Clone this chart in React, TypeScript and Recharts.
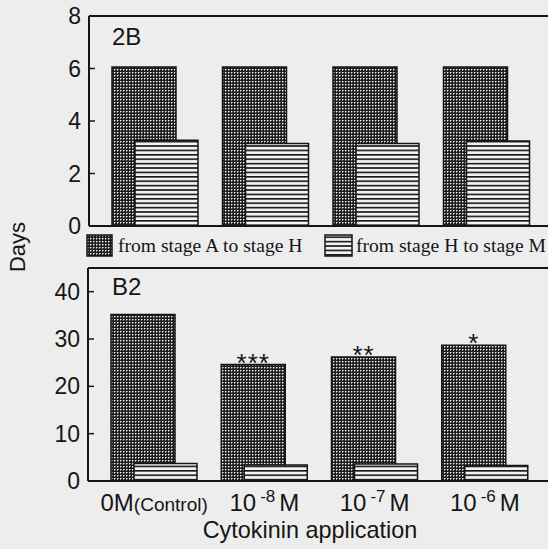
import { BarChart, Bar, XAxis, YAxis, ReferenceLine, LabelList, Legend } from "recharts";

const CATEGORIES = ["0M(Control)", "10-8 M", "10-7 M", "10-6 M"];
const TICK_BASE = ["0M", "10", "10", "10"];
const TICK_EXP = ["", "-8", "-7", "-6"];
const TICK_TAIL = ["(Control)", "M", "M", "M"];

// panel 2B
const AH_2B = [6.06, 6.06, 6.06, 6.06];
const HM_2B = [3.27, 3.14, 3.14, 3.24];
const TICKS_2B = [0, 2, 4, 6, 8];

// panel B2
const AH_B2 = [35.2, 24.6, 26.2, 28.7];
const HM_B2 = [3.7, 3.4, 3.6, 3.3];
const SIG_B2 = ["", "***", "**", "*"];
const TICKS_B2 = [0, 10, 20, 30, 40];

const LEGEND_NAMES = ["from stage A to stage H", "from stage H to stage M"];

const INK = "#151515";
const PAPER = "#ededed";
const SANS = "'Liberation Sans', Arial, sans-serif";
const SERIF = "'Liberation Serif', 'Times New Roman', serif";

const data2B = CATEGORIES.map((name, i) => ({ name, ah: AH_2B[i], hm: HM_2B[i] }));
const dataB2 = CATEGORIES.map((name, i) => ({ name, ah: AH_B2[i], hm: HM_B2[i], sig: SIG_B2[i] }));

function Patterns({ id }: { id: string }) {
  return (
    <defs>
      <pattern id={`dots-${id}`} width="3" height="3" patternUnits="userSpaceOnUse">
        <rect width="3" height="3" fill="#1e1e1e" />
        <rect x="0" y="0" width="1" height="1" fill="#eeeeee" />
        <rect x="1" y="0" width="1" height="1" fill="#8a8a8a" />
        <rect x="0" y="1" width="1" height="1" fill="#8a8a8a" />
      </pattern>
      <pattern id={`stripes-${id}`} width="6" height="4.4" patternUnits="userSpaceOnUse">
        <rect width="6" height="4.4" fill="#f3f3f3" />
        <rect y="0" width="6" height="1.6" fill={INK} />
      </pattern>
    </defs>
  );
}

// ticks point inward in the original
function YTick({ x, y, payload }: any) {
  return (
    <g>
      <line x1={x + 8} x2={x + 14} y1={y} y2={y} stroke={INK} strokeWidth={1.5} />
      <text x={x} y={y} dy={8} textAnchor="end" fontFamily={SANS} fontSize={23} fill={INK}>
        {payload.value}
      </text>
    </g>
  );
}

function XTick({ x, y, payload }: any) {
  const i = CATEGORIES.indexOf(payload.value);
  if (!TICK_EXP[i]) {
    return (
      <text x={x} y={y + 30} textAnchor="middle" fontFamily={SANS} fill={INK}>
        <tspan fontSize={24}>{TICK_BASE[i]}</tspan>
        <tspan fontSize={19}>{TICK_TAIL[i]}</tspan>
      </text>
    );
  }
  return (
    <text x={x} y={y + 30} textAnchor="middle" fontFamily={SANS} fill={INK}>
      <tspan fontSize={24}>{TICK_BASE[i]}</tspan>
      <tspan fontSize={17} dx={4} dy={-9}>{TICK_EXP[i]}</tspan>
      <tspan fontSize={24} dx={4} dy={9}>{TICK_TAIL[i]}</tspan>
    </text>
  );
}

function Sig(props: any) {
  const { x, y, width, value } = props;
  if (!value) return null;
  return (
    <text x={x + width / 2} y={y + 7} textAnchor="middle" fontFamily={SANS} fontSize={26} letterSpacing={1} fill={INK}>
      {value}
    </text>
  );
}

function LegendBox() {
  return (
    <svg width={548} height={28}>
      <rect x={87} y={3} width={25} height={21} fill="url(#dots-2B)" stroke={INK} strokeWidth={1.5} />
      <text x={118} y={20} fontFamily={SERIF} fontSize={19.6} fill={INK}>{LEGEND_NAMES[0]}</text>
      <rect x={325} y={3} width={27} height={21} fill="url(#stripes-2B)" stroke={INK} strokeWidth={1.5} />
      <text x={356} y={20} fontFamily={SERIF} fontSize={19.6} fill={INK}>{LEGEND_NAMES[1]}</text>
    </svg>
  );
}

export default function App() {
  return (
    <div style={{ position: "absolute", left: 0, top: 0, width: 548, height: 549, background: PAPER, overflow: "hidden" }}>
      <div style={{ position: "absolute", left: 0, top: 0 }}>
        <BarChart width={548} height={262} data={data2B} margin={{ top: 16, right: 0, left: 29, bottom: 35 }} barGap={-41}>
          <Patterns id="2B" />
          <XAxis dataKey="name" height={1} tick={false} tickLine={false} axisLine={{ stroke: INK, strokeWidth: 2 }} padding={{ left: 11, right: 6 }} />
          <YAxis width={60} domain={[0, 8]} ticks={TICKS_2B} interval={0} tickSize={0} tickMargin={8} tickLine={false} axisLine={{ stroke: INK, strokeWidth: 2 }} tick={<YTick />} />
          <ReferenceLine y={8} stroke={INK} strokeWidth={2} />
          <Bar dataKey="ah" name={LEGEND_NAMES[0]} barSize={64} fill="url(#dots-2B)" stroke={INK} strokeWidth={1.5} isAnimationActive={false} />
          <Bar dataKey="hm" name={LEGEND_NAMES[1]} barSize={63} fill="url(#stripes-2B)" stroke={INK} strokeWidth={1.5} isAnimationActive={false} />
          <Legend layout="horizontal" verticalAlign="middle" align="center" content={<LegendBox />} wrapperStyle={{ top: 232, left: 0, width: 548, height: 28 }} />
          <text x={112} y={45} fontFamily={SANS} fontSize={24} fill={INK}>2B</text>
        </BarChart>
      </div>
      <div style={{ position: "absolute", left: 0, top: 250 }}>
        <BarChart width={548} height={299} data={dataB2} margin={{ top: 18, right: 0, left: 28, bottom: 0 }} barGap={-41}>
          <Patterns id="B2" />
          <XAxis dataKey="name" height={68} interval={0} tickSize={0} tickMargin={0} tickLine={false} axisLine={{ stroke: INK, strokeWidth: 2 }} padding={{ left: 11, right: 8 }} tick={<XTick />}
            label={{ value: "Cytokinin application", position: "insideBottom", offset: 11, dx: -8, fontFamily: SANS, fontSize: 23.4, fill: INK }} />
          <YAxis width={60} domain={[0, 45]} ticks={TICKS_B2} interval={0} tickSize={0} tickMargin={8} tickLine={false} axisLine={{ stroke: INK, strokeWidth: 2 }} tick={<YTick />} />
          <ReferenceLine y={45} stroke={INK} strokeWidth={2} />
          <Bar dataKey="ah" barSize={64} fill="url(#dots-B2)" stroke={INK} strokeWidth={1.5} isAnimationActive={false}>
            <LabelList dataKey="sig" content={<Sig />} />
          </Bar>
          <Bar dataKey="hm" barSize={63} fill="url(#stripes-B2)" stroke={INK} strokeWidth={1.5} isAnimationActive={false} />
          <text x={112} y={45} fontFamily={SANS} fontSize={24} fill={INK}>B2</text>
        </BarChart>
      </div>
      <svg style={{ position: "absolute", left: 0, top: 200 }} width={40} height={100}>
        <text transform="translate(25, 47) rotate(-90)" textAnchor="middle" fontFamily={SANS} fontSize={22} fill={INK}>Days</text>
      </svg>
    </div>
  );
}
